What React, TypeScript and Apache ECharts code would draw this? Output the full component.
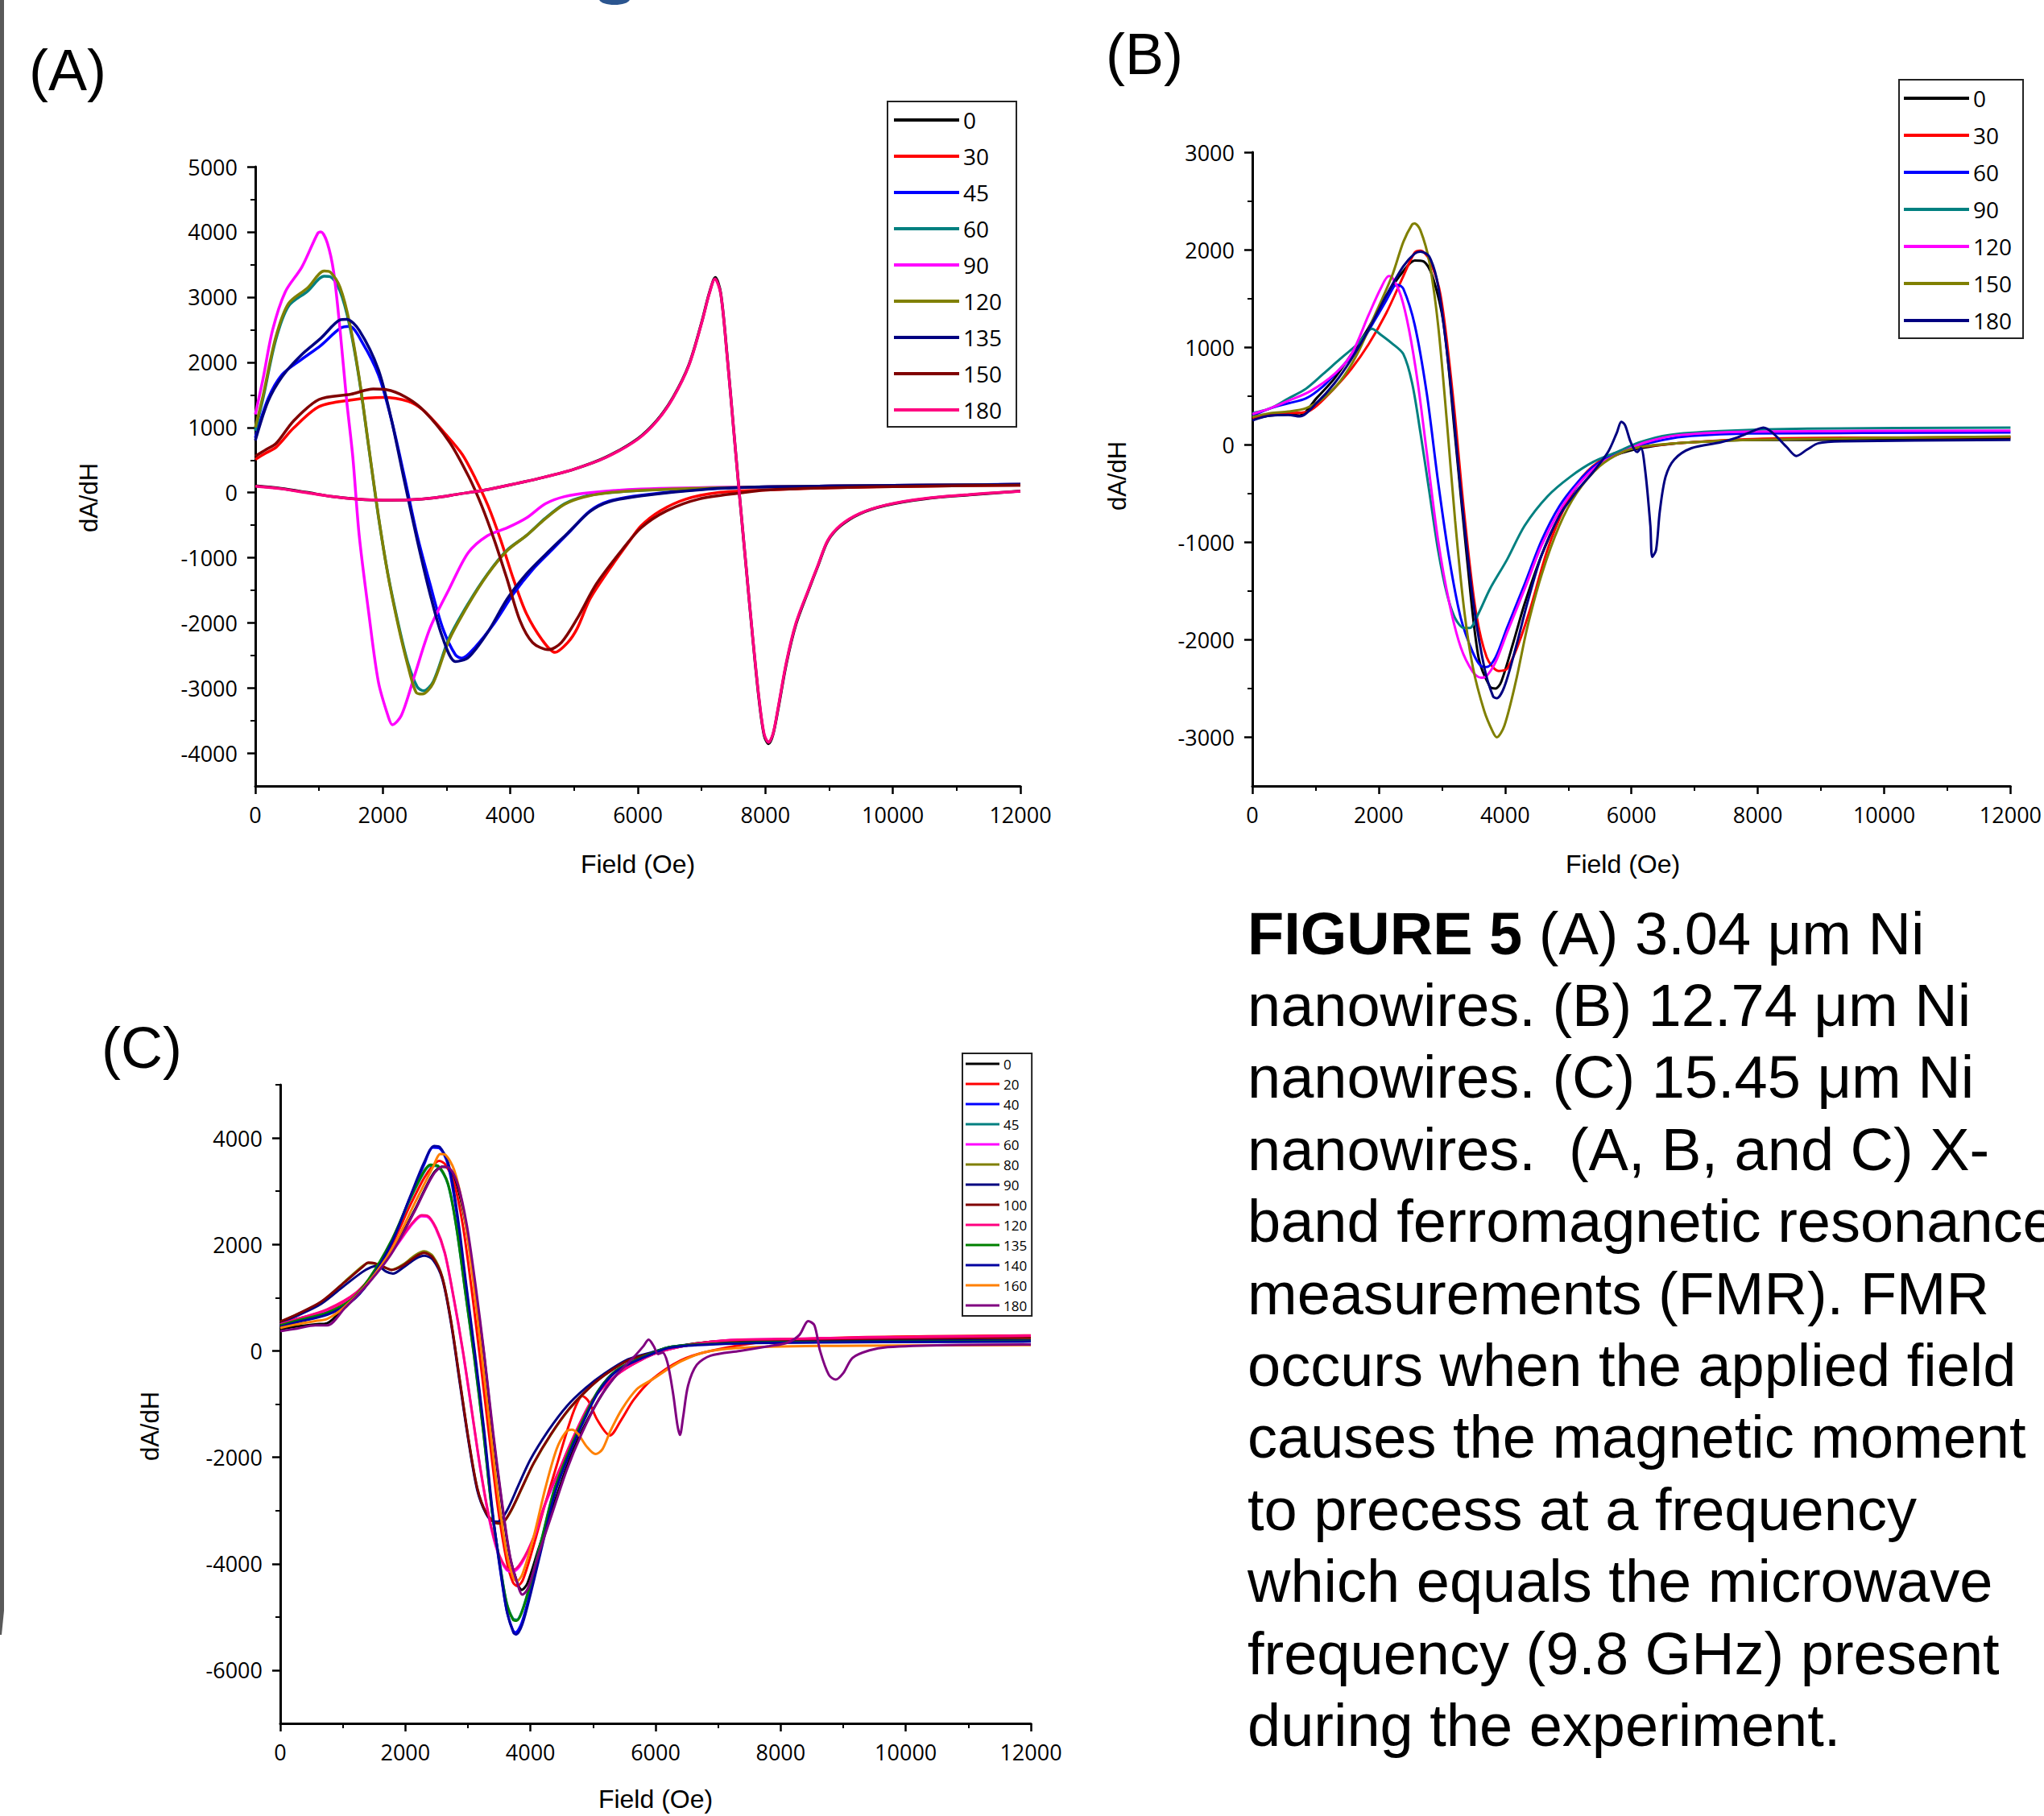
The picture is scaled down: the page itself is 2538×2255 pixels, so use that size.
import React, { useEffect, useRef } from 'react';
import * as echarts from 'echarts';

type Pt = [number, number];

// ---------- Panel A: 3.04 µm Ni nanowires (field Oe, dA/dH) ----------
const anglesA = ['0', '30', '45', '60', '90', '120', '135', '150', '180'];
const colorsA = ['#000000', '#ff0000', '#0000ff', '#008080', '#ff00ff', '#808000', '#000080', '#800000', '#ff0080'];

const a0: Pt[] = [[0,105],[400,65],[800,5],[1200,-60],[1600,-100],[2000,-118],[2400,-112],[2800,-80],[3200,-20],[3600,40],[4000,120],[4500,230],[5000,360],[5500,545],[6000,830],[6300,1110],[6550,1460],[6800,1960],[7000,2610],[7120,3060],[7215,3300],[7300,3060],[7400,2110],[7500,1000],[7600,-100],[7700,-1160],[7800,-2210],[7900,-3170],[7980,-3720],[8050,-3850],[8120,-3710],[8200,-3320],[8330,-2620],[8480,-2020],[8680,-1490],[8830,-1110],[8980,-740],[9180,-510],[9480,-325],[9890,-195],[10500,-95],[11200,-35],[12000,25]];
const a30: Pt[] = [[0,510],[150,600],[330,700],[600,990],[1000,1320],[1500,1420],[2000,1460],[2400,1400],[2650,1250],[3000,880],[3250,580],[3450,220],[3650,-200],[3850,-730],[4050,-1330],[4250,-1850],[4500,-2260],[4700,-2450],[4900,-2300],[5050,-2080],[5250,-1630],[5550,-1180],[5850,-770],[6050,-510],[6350,-280],[6750,-100],[7250,0],[8000,40],[9000,75],[10500,100],[12000,115]];
const a45: Pt[] = [[0,840],[200,1440],[420,1810],[720,2040],[1030,2260],[1330,2520],[1480,2550],[1680,2300],[1930,1810],[2130,1140],[2340,240],[2540,-660],[2740,-1400],[2940,-2080],[3140,-2490],[3240,-2540],[3440,-2380],[3750,-2000],[4050,-1550],[4350,-1180],[4650,-880],[4950,-580],[5250,-280],[5550,-130],[6050,-40],[7050,55],[8050,90],[10000,110],[12000,130]];
const a60: Pt[] = [[0,950],[120,1440],[320,2340],[520,2860],[820,3090],[1080,3320],[1180,3310],[1330,3090],[1480,2560],[1630,1740],[1780,690],[1930,-360],[2080,-1250],[2240,-2000],[2390,-2600],[2540,-2980],[2640,-3040],[2790,-2900],[3040,-2230],[3340,-1700],[3640,-1250],[3950,-880],[4250,-660],[4550,-390],[4850,-170],[5150,-60],[5550,0],[6550,55],[8050,90],[10000,110],[12000,128]];
const a90: Pt[] = [[0,1200],[120,1740],[270,2490],[470,3080],[730,3460],[980,3980],[1030,4000],[1130,3830],[1230,3380],[1330,2490],[1430,1440],[1530,540],[1630,-660],[1780,-1850],[1930,-2900],[2080,-3420],[2150,-3560],[2290,-3420],[2490,-2830],[2740,-2080],[3040,-1480],[3340,-920],[3640,-660],[3950,-540],[4250,-390],[4550,-170],[4850,-60],[5250,0],[6050,55],[8050,90],[10000,110],[12000,128]];
const a120: Pt[] = [[0,1000],[120,1480],[320,2380],[520,2900],[820,3140],[1080,3400],[1180,3380],[1330,3150],[1480,2600],[1630,1760],[1780,700],[1930,-350],[2080,-1260],[2240,-2030],[2390,-2640],[2520,-3060],[2620,-3090],[2790,-2920],[3040,-2260],[3340,-1720],[3640,-1260],[3950,-890],[4250,-660],[4550,-400],[4850,-180],[5150,-70],[5550,0],[6550,55],[8050,90],[10000,110],[12000,128]];
const a135: Pt[] = [[0,800],[200,1400],[420,1780],[720,2110],[1030,2370],[1330,2650],[1430,2660],[1630,2490],[1930,1890],[2130,1140],[2340,170],[2540,-730],[2740,-1550],[2940,-2230],[3140,-2590],[3340,-2530],[3640,-2150],[3950,-1630],[4250,-1250],[4550,-950],[4900,-620],[5250,-290],[5550,-140],[6050,-50],[7050,50],[8050,88],[10000,110],[12000,128]];
const a150: Pt[] = [[0,560],[150,650],[330,760],[600,1100],[1000,1430],[1500,1510],[1850,1590],[2050,1580],[2350,1470],[2650,1250],[3050,770],[3350,240],[3550,-200],[3750,-730],[3950,-1330],[4150,-1960],[4350,-2300],[4600,-2410],[4800,-2300],[5050,-1930],[5350,-1400],[5750,-880],[6050,-540],[6450,-280],[6950,-100],[7650,0],[8000,40],[9000,75],[10500,100],[12000,115]];
const a180: Pt[] = [[0,100],[400,60],[800,0],[1200,-60],[1600,-100],[2000,-115],[2400,-110],[2800,-80],[3200,-20],[3600,40],[4000,120],[4500,230],[5000,360],[5500,540],[6000,820],[6300,1100],[6550,1450],[6800,1950],[7000,2600],[7120,3050],[7210,3280],[7300,3050],[7400,2100],[7500,1000],[7600,-100],[7700,-1150],[7800,-2200],[7900,-3150],[7980,-3700],[8050,-3830],[8120,-3700],[8200,-3300],[8330,-2600],[8480,-2000],[8680,-1480],[8830,-1100],[8980,-730],[9180,-500],[9480,-320],[9890,-190],[10500,-90],[11200,-30],[12000,20]];
const dataA = [a0, a30, a45, a60, a90, a120, a135, a150, a180];

// ---------- Panel B: 12.74 µm Ni nanowires ----------
const anglesB = ['0', '30', '60', '90', '120', '150', '180'];
const colorsB = ['#000000', '#ff0000', '#0000ff', '#008080', '#ff00ff', '#808000', '#000080'];

const b0: Pt[] = [[0,265],[290,300],[570,310],[750,300],[1020,480],[1300,680],[1570,930],[1840,1200],[2120,1530],[2390,1780],[2570,1890],[2710,1880],[2850,1730],[3030,1230],[3210,80],[3400,-1180],[3580,-2180],[3760,-2480],[3850,-2500],[3940,-2430],[4130,-2030],[4310,-1630],[4580,-1130],[4860,-730],[5130,-430],[5400,-230],[5680,-125],[6040,-50],[6500,0],[6950,25],[7870,50],[8780,50],[9690,60],[12000,68]];
const b30: Pt[] = [[0,275],[290,315],[570,325],[850,335],[1020,400],[1300,580],[1570,780],[1840,1030],[2120,1350],[2390,1730],[2570,1970],[2660,1990],[2800,1900],[2980,1530],[3170,530],[3350,-680],[3530,-1680],[3710,-2180],[3900,-2320],[4030,-2300],[4220,-2030],[4400,-1680],[4670,-1080],[4950,-630],[5220,-330],[5590,-130],[6040,-35],[6950,25],[8000,60],[9000,70],[12000,80]];
const b60: Pt[] = [[0,295],[290,375],[570,425],[850,475],[1120,600],[1390,780],[1660,980],[1940,1280],[2120,1480],[2250,1630],[2300,1640],[2390,1600],[2570,1230],[2760,530],[2940,-380],[3120,-1180],[3300,-1780],[3490,-2130],[3620,-2270],[3710,-2280],[3850,-2180],[4030,-1880],[4310,-1430],[4580,-980],[4860,-630],[5130,-400],[5400,-225],[5680,-115],[6040,-25],[6500,50],[6950,90],[7870,115],[12000,125]];
const b90: Pt[] = [[0,325],[290,375],[570,475],[850,575],[1120,725],[1390,880],[1660,1030],[1840,1170],[1890,1190],[2030,1130],[2210,1040],[2390,930],[2530,630],[2660,125],[2800,-475],[2940,-1080],[3080,-1530],[3210,-1780],[3350,-1880],[3440,-1880],[3580,-1730],[3760,-1480],[4030,-1180],[4310,-830],[4670,-530],[5040,-325],[5400,-175],[5770,-75],[6130,25],[6590,100],[7410,140],[8780,165],[12000,175]];
const b120: Pt[] = [[0,315],[290,375],[570,450],[920,550],[1300,725],[1570,930],[1840,1330],[2030,1600],[2160,1730],[2210,1720],[2350,1530],[2480,1180],[2620,630],[2760,-75],[2940,-980],[3120,-1630],[3300,-2080],[3490,-2330],[3620,-2390],[3710,-2370],[3850,-2230],[4030,-1930],[4310,-1480],[4580,-1030],[4860,-680],[5130,-430],[5490,-200],[5860,-75],[6220,25],[6770,100],[7870,135],[12000,145]];
const b150: Pt[] = [[0,285],[290,325],[570,340],[850,375],[1120,475],[1390,650],[1660,930],[1940,1330],[2210,1730],[2390,2080],[2530,2260],[2570,2270],[2660,2200],[2800,1880],[2940,1230],[3080,230],[3210,-780],[3350,-1680],[3490,-2280],[3670,-2730],[3810,-2950],[3870,-3000],[3990,-2880],[4170,-2430],[4350,-1880],[4580,-1330],[4860,-830],[5130,-500],[5490,-225],[5860,-75],[6220,-15],[6950,25],[7870,50],[12000,85]];
const b180: Pt[] = [[0,250],[290,300],[570,305],[750,290],[1020,430],[1300,630],[1570,880],[1840,1180],[2120,1530],[2390,1830],[2570,1960],[2660,1980],[2800,1930],[2940,1630],[3120,730],[3300,-480],[3490,-1580],[3670,-2280],[3810,-2580],[3870,-2600],[3990,-2480],[4170,-2080],[4350,-1630],[4580,-1130],[4860,-730],[5130,-480],[5400,-275],[5630,-75],[5770,125],[5840,236],[5900,200],[5990,25],[6090,-75],[6150,-35],[6220,-275],[6300,-830],[6330,-1150],[6390,-1080],[6450,-680],[6540,-330],[6680,-150],[6950,-35],[7410,25],[7680,75],[7960,150],[8090,175],[8230,125],[8460,-25],[8610,-115],[8780,-50],[8960,15],[9330,35],[12000,50]];
const dataB = [b0, b30, b60, b90, b120, b150, b180];

// ---------- Panel C: 15.45 µm Ni nanowires ----------
const anglesC = ['0', '20', '40', '45', '60', '80', '90', '100', '120', '135', '140', '160', '180'];
const colorsC = ['#000000', '#ff0000', '#0000ff', '#008080', '#ff00ff', '#808000', '#000080', '#800000', '#ff0080', '#008000', '#0000a0', '#ff8000', '#800080'];

const c0: Pt[] = [[0,410],[270,460],[560,500],[750,520],[1030,830],[1410,1290],[1780,1850],[2160,2670],[2440,3320],[2590,3460],[2680,3430],[2820,3130],[2960,2400],[3100,1290],[3250,0],[3390,-1470],[3530,-2760],[3670,-3860],[3810,-4420],[3860,-4490],[3950,-4370],[4140,-3680],[4330,-3040],[4570,-2210],[4800,-1560],[5090,-920],[5370,-460],[5750,-180],[6120,0],[6690,130],[7820,180],[12000,200]];
const c20: Pt[] = [[0,520],[270,600],[750,760],[1120,1000],[1410,1330],[1780,1990],[2070,2720],[2300,3250],[2440,3480],[2540,3570],[2640,3500],[2780,3150],[2920,2350],[3060,1150],[3200,-200],[3340,-1600],[3480,-2950],[3620,-3950],[3720,-4350],[3790,-4420],[3880,-4300],[4040,-3700],[4230,-2900],[4420,-2150],[4600,-1450],[4720,-1050],[4830,-850],[4930,-950],[5070,-1300],[5270,-1590],[5450,-1300],[5650,-920],[5930,-550],[6400,-180],[6880,0],[7820,180],[9000,250],[12000,290]];
const c40: Pt[] = [[0,460],[270,550],[750,690],[1120,920],[1410,1290],[1780,2030],[2070,2860],[2300,3500],[2440,3820],[2540,3810],[2680,3500],[2820,2580],[2960,1290],[3100,0],[3250,-1470],[3390,-3040],[3530,-4230],[3620,-4880],[3720,-5250],[3760,-5290],[3860,-5110],[4000,-4510],[4190,-3590],[4380,-2670],[4610,-1930],[4850,-1290],[5090,-740],[5370,-370],[5750,-140],[6220,70],[6880,130],[7820,160],[12000,185]];
const c45: Pt[] = [[0,470],[270,560],[750,710],[1120,940],[1410,1320],[1780,2060],[2070,2830],[2300,3360],[2400,3480],[2520,3460],[2680,3130],[2820,2280],[2960,1080],[3100,-120],[3250,-1570],[3390,-3060],[3530,-4140],[3620,-4730],[3720,-5030],[3780,-5050],[3860,-4900],[4000,-4360],[4190,-3480],[4380,-2600],[4610,-1890],[4850,-1260],[5090,-740],[5370,-370],[5750,-140],[6220,70],[6880,130],[7820,160],[12000,190]];
const c60: Pt[] = [[0,490],[270,590],[750,770],[1220,1090],[1590,1550],[1880,2010],[2110,2380],[2260,2530],[2350,2520],[2490,2290],[2630,1830],[2770,1000],[2920,-20],[3060,-1120],[3200,-2230],[3340,-3160],[3480,-3800],[3620,-4120],[3720,-4150],[3860,-3990],[4050,-3520],[4240,-2870],[4470,-2220],[4710,-1570],[4990,-930],[5370,-460],[5750,-180],[6120,0],[6690,140],[7350,210],[12000,280]];
const c80: Pt[] = [[0,545],[270,685],[650,915],[1030,1300],[1310,1590],[1410,1650],[1500,1640],[1690,1555],[1780,1525],[1970,1630],[2160,1800],[2300,1870],[2440,1780],[2590,1390],[2730,560],[2870,-560],[3010,-1670],[3150,-2590],[3290,-3050],[3430,-3230],[3530,-3250],[3670,-3050],[3860,-2590],[4050,-2120],[4330,-1570],[4610,-1110],[4900,-740],[5180,-460],[5560,-180],[5930,-50],[6310,70],[6880,170],[7820,210],[12000,235]];
const c90: Pt[] = [[0,530],[270,660],[650,880],[1030,1230],[1310,1480],[1450,1570],[1550,1600],[1690,1490],[1800,1450],[1970,1570],[2160,1730],[2300,1790],[2440,1710],[2590,1350],[2730,520],[2870,-600],[3010,-1700],[3150,-2620],[3290,-3060],[3400,-3200],[3480,-3210],[3620,-3010],[3810,-2520],[4000,-2040],[4290,-1490],[4580,-1040],[4880,-700],[5180,-430],[5560,-160],[5930,-30],[6310,80],[6880,160],[7820,190],[12000,200]];
const c100: Pt[] = [[0,550],[270,690],[650,920],[1030,1290],[1310,1570],[1410,1660],[1500,1650],[1690,1560],[1780,1520],[1970,1610],[2160,1770],[2300,1840],[2440,1750],[2590,1380],[2730,560],[2870,-550],[3010,-1660],[3150,-2580],[3290,-3040],[3430,-3220],[3530,-3240],[3670,-3040],[3860,-2580],[4050,-2110],[4330,-1560],[4610,-1100],[4900,-740],[5180,-460],[5560,-180],[5930,-50],[6310,70],[6880,170],[7820,210],[12000,250]];
const c120: Pt[] = [[0,500],[270,600],[750,780],[1220,1100],[1590,1570],[1880,2030],[2110,2400],[2260,2550],[2350,2540],[2490,2310],[2630,1850],[2770,1020],[2920,0],[3060,-1100],[3200,-2210],[3340,-3130],[3480,-3770],[3620,-4090],[3720,-4120],[3860,-3960],[4050,-3500],[4240,-2850],[4470,-2210],[4710,-1560],[4990,-920],[5370,-460],[5750,-180],[6120,0],[6690,140],[7350,210],[12000,285]];
const c135: Pt[] = [[0,480],[270,570],[750,720],[1120,950],[1410,1340],[1780,2080],[2070,2850],[2300,3380],[2400,3500],[2520,3480],[2680,3150],[2820,2300],[2960,1100],[3100,-100],[3250,-1550],[3390,-3050],[3530,-4150],[3620,-4750],[3720,-5050],[3780,-5070],[3860,-4920],[4000,-4380],[4190,-3500],[4380,-2620],[4610,-1900],[4850,-1270],[5090,-740],[5370,-370],[5750,-140],[6220,70],[6880,130],[7820,160],[12000,185]];
const c140: Pt[] = [[0,450],[270,540],[750,680],[1120,910],[1410,1280],[1780,2030],[2070,2880],[2300,3540],[2460,3850],[2550,3830],[2690,3510],[2830,2580],[2970,1270],[3110,-20],[3260,-1500],[3400,-3080],[3540,-4280],[3630,-4930],[3730,-5300],[3770,-5330],[3870,-5140],[4010,-4530],[4200,-3600],[4390,-2680],[4620,-1940],[4860,-1300],[5100,-750],[5380,-380],[5760,-150],[6230,60],[6880,120],[7820,150],[12000,175]];
const c160: Pt[] = [[0,430],[270,500],[560,560],[750,600],[1030,830],[1410,1290],[1780,1900],[2160,2800],[2440,3450],[2560,3700],[2630,3690],[2780,3400],[2920,2700],[3060,1550],[3200,150],[3340,-1300],[3480,-2700],[3620,-3800],[3720,-4250],[3780,-4330],[3870,-4200],[4050,-3500],[4240,-2570],[4420,-1840],[4570,-1520],[4660,-1480],[4760,-1560],[4900,-1800],[5040,-1940],[5150,-1850],[5280,-1500],[5460,-1100],[5700,-720],[5930,-550],[6400,-200],[6880,0],[7820,80],[12000,110]];
const c180: Pt[] = [[0,370],[270,420],[560,480],[750,480],[1030,800],[1410,1270],[1780,1830],[2160,2650],[2440,3300],[2600,3460],[2700,3440],[2840,3120],[2980,2380],[3120,1250],[3260,-50],[3400,-1500],[3540,-2800],[3680,-3900],[3820,-4480],[3870,-4580],[3960,-4460],[4150,-3750],[4340,-3080],[4580,-2240],[4810,-1580],[5090,-920],[5370,-460],[5650,-120],[5800,80],[5890,210],[5970,90],[6040,-60],[6110,-30],[6190,-220],[6280,-800],[6350,-1400],[6390,-1580],[6440,-1250],[6520,-650],[6660,-260],[6880,-90],[7350,0],[7820,90],[8100,150],[8300,300],[8440,560],[8540,480],[8630,0],[8770,-450],[8880,-540],[9000,-420],[9150,-130],[9420,10],[9710,70],[10650,110],[12000,120]];
const dataC = [c0, c20, c40, c45, c60, c80, c90, c100, c120, c135, c140, c160, c180];

// ---------- Axis tick values ----------
const yMajorA = [-4000, -3000, -2000, -1000, 0, 1000, 2000, 3000, 4000, 5000];
const yMinorA = [-3500, -2500, -1500, -500, 500, 1500, 2500, 3500, 4500];
const yMajorB = [-3000, -2000, -1000, 0, 1000, 2000, 3000];
const yMinorB = [-2500, -1500, -500, 500, 1500, 2500];
const yMajorC = [-6000, -4000, -2000, 0, 2000, 4000];
const yMinorC = [-5000, -3000, -1000, 1000, 3000, 5000];

const captionLines = [
  '{b|FIGURE 5} (A) 3.04 \u03bcm Ni',
  'nanowires. (B) 12.74 \u03bcm Ni',
  'nanowires. (C) 15.45 \u03bcm Ni',
  'nanowires.  (A, B, and C) X-',
  'band ferromagnetic resonance',
  'measurements (FMR). FMR',
  'occurs when the applied field',
  'causes the magnetic moment',
  'to precess at a frequency',
  'which equals the microwave',
  'frequency (9.8 GHz) present',
  'during the experiment.',
];

const TICK_FONT = 'Open Sans';
const TITLE_FONT = 'Liberation Sans';

function xAxisFor(gridIndex: number) {
  return {
    type: 'value',
    gridIndex,
    position: 'bottom',
    min: 0,
    max: 12000,
    interval: 2000,
    axisLine: { show: true, onZero: false, lineStyle: { color: '#000', width: 3 } },
    axisTick: { show: true, length: 10, lineStyle: { color: '#000', width: 2.5 } },
    minorTick: { show: true, splitNumber: 2, length: 6, lineStyle: { color: '#000', width: 2 } },
    splitLine: { show: false },
    minorSplitLine: { show: false },
    axisLabel: {
      fontSize: 27,
      fontFamily: TICK_FONT,
      color: '#000',
      margin: 22,
      formatter: (v: number) => String(v),
    },
  };
}

function yAxesFor(gridIndex: number, min: number, max: number, step: number, major: number[], minor: number[]) {
  const base = {
    type: 'value',
    gridIndex,
    position: 'left',
    offset: 0,
    min,
    max,
    interval: step,
    splitLine: { show: false },
  };
  return [
    {
      ...base,
      axisLine: { show: true, onZero: false, lineStyle: { color: '#000', width: 3 } },
      axisTick: { show: true, length: 10, customValues: major, lineStyle: { color: '#000', width: 2.5 } },
      axisLabel: {
        fontSize: 27,
        fontFamily: TICK_FONT,
        color: '#000',
        margin: 22,
        customValues: major,
        formatter: (v: number) => (major.indexOf(v) >= 0 ? String(v) : ''),
      },
    },
    {
      ...base,
      axisLine: { show: false, onZero: false },
      axisTick: { show: true, length: 6, customValues: minor, lineStyle: { color: '#000', width: 2 } },
      axisLabel: { show: false },
    },
  ];
}

function seriesFor(
  tag: string,
  angles: string[],
  colors: string[],
  data: Pt[][],
  axisIdx: number,
  yIdx: number,
  width: number,
) {
  return angles.map((a, i) => ({
    name: `${tag}|${a}`,
    type: 'line',
    xAxisIndex: axisIdx,
    yAxisIndex: yIdx,
    data: data[i],
    smooth: 0.3,
    showSymbol: false,
    symbol: 'none',
    color: colors[i],
    lineStyle: { color: colors[i], width },
    z: 2 + i * 0.01,
  }));
}

function legendFor(
  tag: string,
  angles: string[],
  colors: string[],
  left: number,
  top: number,
  itemWidth: number,
  itemHeight: number,
  fontSize: number,
  lineHeight: number,
  gap: number,
  padding: number[],
) {
  return {
    show: true,
    orient: 'vertical',
    left,
    top,
    itemWidth,
    itemHeight,
    itemGap: gap,
    icon: 'rect',
    selectedMode: false,
    padding,
    borderColor: '#222',
    borderWidth: 2,
    backgroundColor: '#fff',
    textStyle: { fontSize, fontFamily: TICK_FONT, color: '#000', lineHeight },
    formatter: (n: string) => n.split('|')[1],
    data: angles.map((a, i) => ({ name: `${tag}|${a}`, icon: 'rect', itemStyle: { color: colors[i] } })),
  };
}

function textEl(text: string, x: number, y: number, size: number, opts: any = {}) {
  return {
    type: 'text',
    x,
    y,
    rotation: opts.rotation || 0,
    silent: true,
    style: {
      text,
      fill: '#000',
      fontSize: size,
      fontFamily: opts.family || TITLE_FONT,
      fontWeight: opts.weight || 'normal',
      align: opts.align || 'center',
      textAlign: opts.align || 'center',
      verticalAlign: 'middle',
      textVerticalAlign: 'middle',
      rich: opts.rich,
    },
  };
}

export default function App() {
  const ref = useRef<HTMLDivElement>(null);

  useEffect(() => {
    document.body.style.margin = '0';
    document.body.style.overflow = 'hidden';
    if (!ref.current) return;
    const chart = echarts.init(ref.current, undefined, { renderer: 'svg' });

    const captionEls = captionLines.map((line, i) =>
      textEl(line, 1549, 1159 + i * 89.4, 74, {
        align: 'left',
        rich: { b: { fontWeight: 'bold', fontSize: 74, fontFamily: TITLE_FONT, fill: '#000' } },
      }),
    );

    const option: any = {
      animation: false,
      backgroundColor: '#ffffff',
      grid: [
        { left: 317, top: 207, width: 950, height: 769, containLabel: false },
        { left: 1555, top: 189, width: 972, height: 787, containLabel: false },
        { left: 348, top: 1347, width: 932, height: 793, containLabel: false },
      ],
      xAxis: [xAxisFor(0), xAxisFor(1), xAxisFor(2)],
      yAxis: [
        ...yAxesFor(0, -4500, 5000, 500, yMajorA, yMinorA),
        ...yAxesFor(1, -3500, 3000, 500, yMajorB, yMinorB),
        ...yAxesFor(2, -7000, 5000, 1000, yMajorC, yMinorC),
      ],
      legend: [
        legendFor('A', anglesA, colorsA, 1102, 126, 81, 4, 28, 30, 15, [8, 18, 6, 8]),
        legendFor('B', anglesB, colorsB, 2358, 99, 81, 4, 28, 30, 16, [8, 14, 7, 6]),
        legendFor('C', anglesC, colorsC, 1195, 1308, 42, 3, 17, 18, 7, [4, 6, 4, 4]),
      ],
      series: [
        ...seriesFor('A', anglesA, colorsA, dataA, 0, 0, 3.5),
        ...seriesFor('B', anglesB, colorsB, dataB, 1, 2, 3),
        ...seriesFor('C', anglesC, colorsC, dataC, 2, 4, 3),
      ],
      graphic: [
        // page edge strip on the left
        { type: 'rect', silent: true, shape: { x: 0, y: 0, width: 5, height: 2000 }, style: { fill: '#595959' } },
        { type: 'polygon', silent: true, shape: { points: [[0, 2000], [5, 2000], [2, 2030], [0, 2030]] }, style: { fill: '#595959' } },
        // fragment of a glyph at the top margin
        { type: 'ellipse', silent: true, shape: { cx: 763, cy: -1, rx: 19, ry: 7 }, style: { fill: '#2b558f' } },
        // panel tags
        textEl('(A)', 36, 87, 72, { align: 'left' }),
        textEl('(B)', 1373, 67, 72, { align: 'left' }),
        textEl('(C)', 126, 1301, 72, { align: 'left' }),
        // axis titles
        textEl('dA/dH', 110, 618, 31, { rotation: Math.PI / 2 }),
        textEl('dA/dH', 1387, 591, 31, { rotation: Math.PI / 2 }),
        textEl('dA/dH', 186, 1771, 31, { rotation: Math.PI / 2 }),
        textEl('Field (Oe)', 792, 1073, 32),
        textEl('Field (Oe)', 2015, 1073, 32),
        textEl('Field (Oe)', 814, 2234, 32),
        ...captionEls,
      ],
    };

    chart.setOption(option);
    return () => chart.dispose();
  }, []);

  return <div ref={ref} style={{ width: '2538px', height: '2255px' }} />;
}
